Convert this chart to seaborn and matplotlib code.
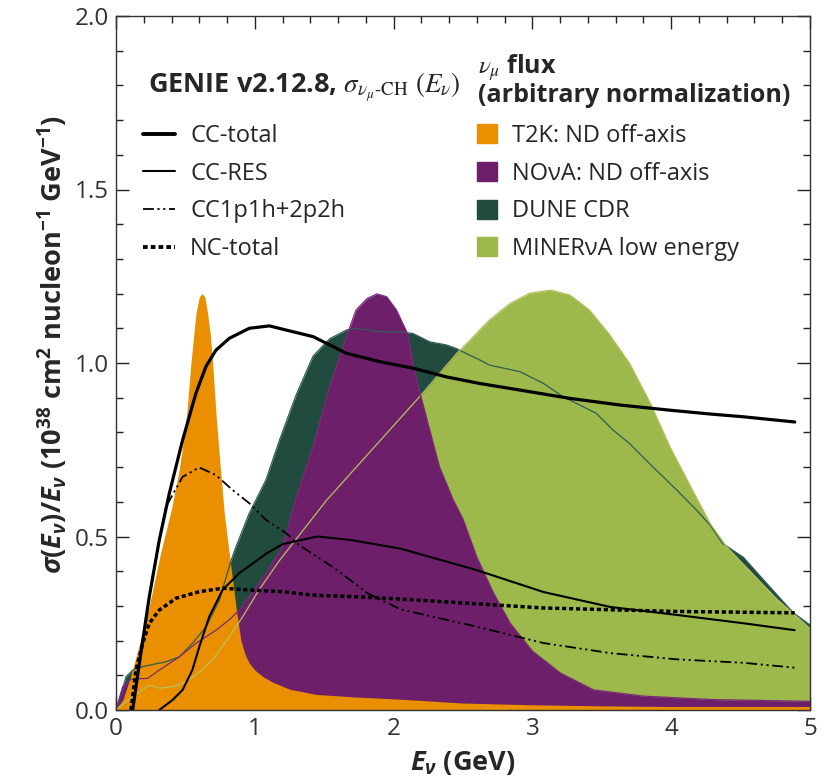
import matplotlib
matplotlib.use('Agg')
import matplotlib.pyplot as plt
import seaborn as sns
import numpy as np
import pandas as pd
from matplotlib.lines import Line2D
from matplotlib.patches import Patch
from matplotlib.ticker import MultipleLocator, FormatStrFormatter

# ---------------- data ----------------
t2k_E = [0.0, 0.05, 0.1, 0.17, 0.24, 0.32, 0.40, 0.45, 0.48, 0.51, 0.54, 0.56, 0.576, 0.60, 0.62, 0.64, 0.66, 0.68, 0.696, 0.72, 0.749, 0.78, 0.81, 0.84, 0.87, 0.9, 0.93, 0.96, 1.0, 1.06, 1.13, 1.25, 1.44, 1.7, 2.1, 2.5, 3.0, 3.5, 4.0, 4.5, 5.0]
t2k_v = [0.0, 0.03, 0.09, 0.19, 0.30, 0.45, 0.58, 0.68, 0.76, 0.855, 1.0, 1.08, 1.143, 1.19, 1.2, 1.19, 1.143, 1.08, 1.0, 0.855, 0.711, 0.567, 0.47, 0.375, 0.28, 0.2, 0.16, 0.135, 0.115, 0.096, 0.08, 0.06, 0.045, 0.038, 0.03, 0.02, 0.015, 0.012, 0.01, 0.01, 0.01]

nova_E = [0.0, 0.048, 0.096, 0.15, 0.228, 0.312, 0.456, 0.576, 0.72, 0.816, 0.889, 0.96, 1.08, 1.2, 1.3, 1.42, 1.54, 1.66, 1.73, 1.81, 1.88, 1.95, 2.02, 2.1, 2.14, 2.19, 2.26, 2.33, 2.43, 2.5, 2.6, 2.72, 2.84, 3.0, 3.2, 3.44, 3.8, 4.3, 5.0]
nova_v = [0.0, 0.067, 0.087, 0.09, 0.091, 0.115, 0.153, 0.192, 0.23, 0.26, 0.288, 0.326, 0.394, 0.47, 0.615, 0.759, 0.932, 1.076, 1.153, 1.186, 1.199, 1.191, 1.153, 1.085, 0.999, 0.913, 0.807, 0.701, 0.605, 0.55, 0.44, 0.337, 0.25, 0.17, 0.107, 0.058, 0.04, 0.03, 0.025]

dune_E = [0.0, 0.024, 0.072, 0.12, 0.19, 0.36, 0.456, 0.55, 0.65, 0.745, 0.83, 0.865, 0.96, 1.08, 1.18, 1.30, 1.42, 1.54, 1.66, 1.73, 1.9, 2.04, 2.14, 2.26, 2.38, 2.45, 2.52, 2.62, 2.69, 2.91, 3.08, 3.22, 3.34, 3.46, 3.58, 3.7, 3.89, 4.04, 4.18, 4.28, 4.37, 4.52, 4.71, 4.88, 5.0]
dune_v = [0.0, 0.028, 0.096, 0.115, 0.125, 0.139, 0.153, 0.192, 0.24, 0.317, 0.432, 0.471, 0.567, 0.663, 0.78, 0.91, 1.02, 1.07, 1.095, 1.1, 1.09, 1.09, 1.085, 1.061, 1.052, 1.042, 1.028, 1.009, 0.994, 0.975, 0.941, 0.903, 0.879, 0.855, 0.807, 0.768, 0.692, 0.634, 0.577, 0.533, 0.48, 0.44, 0.355, 0.28, 0.245]

minerva_E = [0.0, 0.024, 0.12, 0.24, 0.312, 0.408, 0.48, 0.576, 0.696, 0.816, 0.913, 1.03, 1.18, 1.518, 2.21, 2.46, 2.55, 2.69, 2.84, 2.98, 3.13, 3.27, 3.41, 3.55, 3.7, 3.85, 3.99, 4.14, 4.28, 4.4, 4.52, 4.76, 5.0]
minerva_v = [0.0, 0.01, 0.038, 0.072, 0.063, 0.067, 0.077, 0.101, 0.144, 0.211, 0.269, 0.346, 0.432, 0.605, 0.913, 1.03, 1.066, 1.124, 1.172, 1.201, 1.21, 1.196, 1.153, 1.085, 0.999, 0.884, 0.759, 0.644, 0.538, 0.47, 0.42, 0.32, 0.235]

cc_total_E = [0.12, 0.168, 0.24, 0.312, 0.384, 0.48, 0.576, 0.648, 0.72, 0.816, 0.96, 1.105, 1.225, 1.42, 1.66, 1.9, 2.14, 2.38, 2.62, 2.91, 3.27, 3.63, 3.99, 4.28, 4.52, 4.89]
cc_total_v = [0.0, 0.134, 0.327, 0.49, 0.624, 0.778, 0.913, 0.99, 1.037, 1.071, 1.1, 1.107, 1.095, 1.076, 1.028, 1.004, 0.985, 0.96, 0.941, 0.922, 0.898, 0.879, 0.864, 0.853, 0.845, 0.83]

cc_res_E = [0.312, 0.408, 0.48, 0.55, 0.6, 0.672, 0.768, 0.889, 0.96, 1.08, 1.2, 1.45, 1.69, 2.05, 2.6, 3.08, 3.56, 4.04, 4.52, 4.89]
cc_res_v = [0.0, 0.029, 0.058, 0.115, 0.182, 0.269, 0.346, 0.395, 0.415, 0.45, 0.478, 0.5, 0.49, 0.465, 0.403, 0.34, 0.297, 0.274, 0.25, 0.23]

cc_qe_E = [0.12, 0.168, 0.24, 0.312, 0.36, 0.48, 0.6, 0.72, 0.84, 0.96, 1.08, 1.225, 1.32, 1.57, 1.81, 2.05, 2.6, 3.08, 3.56, 4.04, 4.52, 4.89]
cc_qe_v = [0.0, 0.134, 0.327, 0.49, 0.586, 0.672, 0.699, 0.677, 0.634, 0.596, 0.548, 0.51, 0.475, 0.41, 0.337, 0.29, 0.24, 0.193, 0.164, 0.146, 0.136, 0.122]

nc_total_E = [0.108, 0.144, 0.192, 0.24, 0.312, 0.432, 0.6, 0.768, 0.96, 1.2, 1.42, 1.81, 2.12, 3.08, 4.04, 4.89]
nc_total_v = [0.0, 0.115, 0.192, 0.25, 0.288, 0.322, 0.341, 0.351, 0.346, 0.341, 0.331, 0.325, 0.318, 0.294, 0.284, 0.28]

flux_labels = ["T2K: ND off-axis", "NO\u03bdA: ND off-axis", "DUNE CDR", "MINER\u03bdA low energy"]
xsec_labels = ["CC-total", "CC-RES", "CC1p1h+2p2h", "NC-total"]
x_ticks = [0, 1, 2, 3, 4, 5]
y_ticks = [0.0, 0.5, 1.0, 1.5, 2.0]

# ---------------- style ----------------
sns.set_theme(style='ticks')
plt.rcParams['font.family'] = ['Open Sans', 'DejaVu Sans']
plt.rcParams['mathtext.fontset'] = 'custom'
plt.rcParams['mathtext.rm'] = 'Open Sans:bold'
plt.rcParams['mathtext.it'] = 'Open Sans:italic:bold'
plt.rcParams['mathtext.bf'] = 'Open Sans:bold'

C_T2K = '#EA8F00'
C_NOVA = '#6D1F69'
C_DUNE = '#224B3F'
C_MIN = '#9DB84B'

W, H = 829, 780
fig = plt.figure(figsize=(W / 100, H / 100), dpi=100)
ax = fig.add_axes([116 / W, 70 / H, 694 / W, 694 / H])

# fills (back to front)
ax.fill_between(dune_E, dune_v, 0, color=C_DUNE, lw=0)
ax.fill_between(minerva_E, minerva_v, 0, color=C_MIN, lw=0)
ax.fill_between(nova_E, nova_v, 0, color=C_NOVA, lw=0)
ax.fill_between(t2k_E, t2k_v, 0, color=C_T2K, lw=0)

# thin outlines of the fluxes on top
sns.lineplot(x=dune_E, y=dune_v, color='#2E5E55', lw=0.9, ax=ax, sort=False, estimator=None)
sns.lineplot(x=minerva_E, y=minerva_v, color='#B8C060', lw=0.9, ax=ax, sort=False, estimator=None)
sns.lineplot(x=nova_E, y=nova_v, color='#7A2A78', lw=0.9, ax=ax, sort=False, estimator=None)

# cross sections
QE_DASH = (0, (6, 2, 1.2, 2, 1.2, 2))
NC_DASH = (0, (1.2, 0.8))
sns.lineplot(x=cc_total_E, y=cc_total_v, color='black', lw=2.3, ax=ax, sort=False, estimator=None)
sns.lineplot(x=cc_res_E, y=cc_res_v, color='black', lw=1.5, ax=ax, sort=False, estimator=None)
sns.lineplot(x=cc_qe_E, y=cc_qe_v, color='black', lw=1.3, ax=ax, sort=False, estimator=None,
             linestyle=QE_DASH)
sns.lineplot(x=nc_total_E, y=nc_total_v, color='black', lw=2.5, ax=ax, sort=False, estimator=None,
             linestyle=NC_DASH)

# axes
ax.set_xlim(0, 5)
ax.set_ylim(0, 2)
ax.set_xticks(x_ticks)
ax.set_yticks(y_ticks)
ax.yaxis.set_major_formatter(FormatStrFormatter('%.1f'))
ax.xaxis.set_minor_locator(MultipleLocator(0.2))
ax.yaxis.set_minor_locator(MultipleLocator(0.1))
ax.tick_params(which='both', direction='in', top=True, right=True, color='#222222', width=1.0)
ax.tick_params(which='major', length=9.5, labelsize=17.5, labelcolor='#333333', pad=5)
ax.tick_params(which='minor', length=5)
for s in ax.spines.values():
    s.set_color('#333333')
    s.set_linewidth(1.0)
ax.set_xlabel('')
ax.set_ylabel('')

fig.text(463 / W, 1 - 763 / H, r'$E_\nu$ (GeV)', ha='center', va='center', fontsize=19.5, fontweight='bold')
fig.text(53 / W, 1 - 345 / H,
         r'$\sigma(E_\nu)/E_\nu$ (10$^{38}$ cm$^{2}$ nucleon$^{-1}$ GeV$^{-1}$)',
         ha='center', va='center', rotation=90, fontsize=19.5, fontweight='bold')

# legend titles
fig.text(148 / W, 1 - 87 / H, r'GENIE v2.12.8, $\sigma_{\nu_\mu\text{-CH}}$ $(E_\nu)$',
         ha='left', va='center', fontsize=19.5, fontweight='bold', math_fontfamily='stix')
fig.text(478 / W, 1 - 68 / H, r'$\nu_\mu$ flux', ha='left', va='center', fontsize=18,
         fontweight='bold', math_fontfamily='stix')
fig.text(478 / W, 1 - 95 / H, '(arbitrary normalization)', ha='left', va='center', fontsize=18,
         fontweight='bold')

line_handles = [
    Line2D([], [], color='black', lw=2.8),
    Line2D([], [], color='black', lw=1.5),
    Line2D([], [], color='black', lw=1.3, linestyle=QE_DASH),
    Line2D([], [], color='black', lw=2.8, linestyle=NC_DASH),
]
leg1 = ax.legend(line_handles, xsec_labels, loc='upper left', bbox_to_anchor=(143 / W, 1 - 124 / H),
                 bbox_transform=fig.transFigure, frameon=False, fontsize=17, handlelength=1.36,
                 handletextpad=0.64, labelspacing=0.58, borderpad=0, borderaxespad=0)
ax.add_artist(leg1)

patch_handles = [Patch(color=C_T2K), Patch(color=C_NOVA), Patch(color=C_DUNE), Patch(color=C_MIN)]
ax.legend(patch_handles, flux_labels, loc='upper left', bbox_to_anchor=(477 / W, 1 - 124 / H),
          bbox_transform=fig.transFigure, frameon=False, fontsize=17, handlelength=0.85,
          handleheight=0.85, handletextpad=0.64, labelspacing=0.58, borderpad=0, borderaxespad=0)

fig.savefig('out.png', dpi=100)
